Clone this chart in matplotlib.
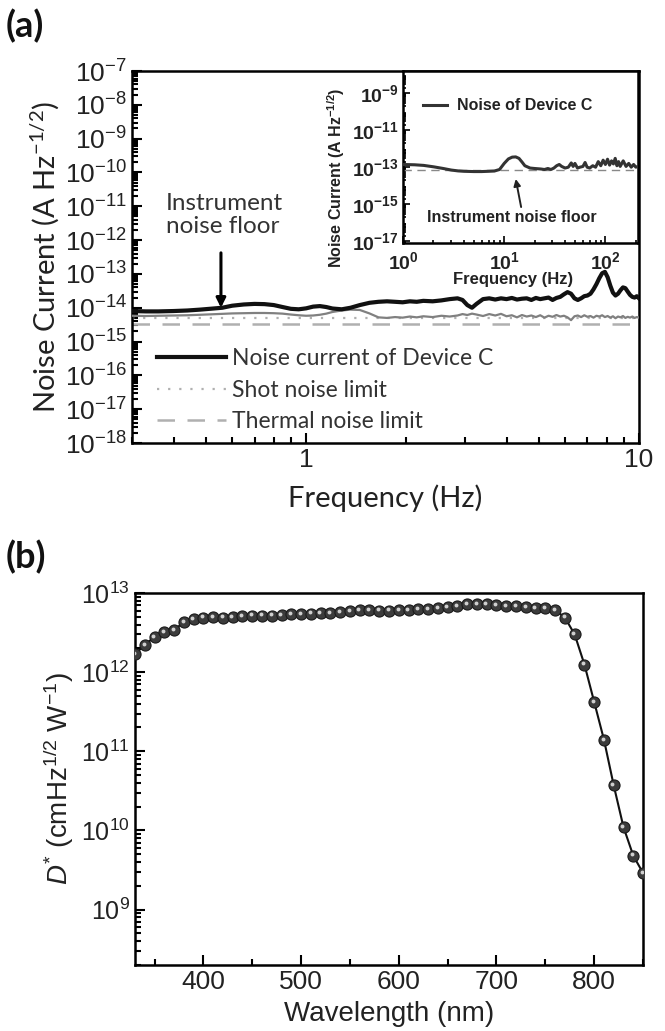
import numpy as np
import matplotlib
matplotlib.use("Agg")
import matplotlib.pyplot as plt
from matplotlib.ticker import LogLocator, FixedLocator, FixedFormatter, NullFormatter, MultipleLocator
import matplotlib.transforms as mtransforms

plt.rcParams['font.family'] = 'Liberation Sans'
plt.rcParams['mathtext.fontset'] = 'custom'
plt.rcParams['mathtext.rm'] = 'Liberation Sans'
plt.rcParams['mathtext.it'] = 'Liberation Sans:italic'
plt.rcParams['mathtext.bf'] = 'Liberation Sans:bold'
plt.rcParams['axes.linewidth'] = 1.8

# ---- panel (a): noise current vs frequency ----
freq = [0.30, 0.33, 0.36, 0.40, 0.44, 0.48, 0.52, 0.56, 0.60, 0.65, 0.70, 0.75, 0.80, 0.85,
        0.90, 0.95, 1.00, 1.05, 1.10, 1.15, 1.20, 1.28, 1.36, 1.45, 1.55, 1.65, 1.75, 1.85,
        1.95, 2.05, 2.15, 2.25, 2.40, 2.55, 2.70, 2.85, 2.95, 3.05, 3.15, 3.25, 3.40, 3.55,
        3.70, 3.85, 4.00, 4.15, 4.30, 4.45, 4.60, 4.75, 4.90, 5.05, 5.20, 5.35, 5.50, 5.65,
        5.80, 5.95, 6.10, 6.25, 6.40, 6.55, 6.70, 6.85, 7.00, 7.15, 7.30, 7.45, 7.60, 7.75,
        7.90, 8.05, 8.20, 8.35, 8.50, 8.65, 8.80, 8.95, 9.10, 9.25, 9.40, 9.55, 9.70, 9.85, 10.0]
device_noise = [8.0e-15, 7.8e-15, 7.8e-15, 8.0e-15, 8.3e-15, 8.8e-15, 9.4e-15, 1.0e-14, 1.15e-14,
                1.25e-14, 1.3e-14, 1.28e-14, 1.2e-14, 1.05e-14, 9.3e-15, 9.0e-15, 9.6e-15, 1.08e-14,
                1.12e-14, 1.05e-14, 9.5e-15, 9.0e-15, 1.0e-14, 1.2e-14, 1.4e-14, 1.5e-14, 1.55e-14,
                1.5e-14, 1.45e-14, 1.55e-14, 1.5e-14, 1.6e-14, 1.55e-14, 1.65e-14, 1.8e-14, 1.9e-14,
                1.7e-14, 1.2e-14, 1.0e-14, 1.3e-14, 1.8e-14, 1.9e-14, 1.75e-14, 1.9e-14, 1.8e-14,
                1.95e-14, 1.75e-14, 1.85e-14, 1.9e-14, 1.7e-14, 1.95e-14, 1.8e-14, 1.9e-14, 2.0e-14,
                1.7e-14, 1.95e-14, 2.1e-14, 2.5e-14, 2.9e-14, 2.6e-14, 1.9e-14, 1.7e-14, 1.9e-14,
                2.2e-14, 2.3e-14, 2.6e-14, 3.5e-14, 5.0e-14, 7.5e-14, 1.05e-13, 1.15e-13, 8.0e-14,
                4.5e-14, 2.8e-14, 2.3e-14, 2.6e-14, 3.3e-14, 4.0e-14, 3.8e-14, 3.0e-14, 2.4e-14,
                2.1e-14, 2.0e-14, 2.2e-14, 1.9e-14]
floor_noise = [5.8e-15, 5.7e-15, 5.8e-15, 5.9e-15, 6.0e-15, 6.2e-15, 6.4e-15, 6.6e-15, 6.8e-15,
               6.9e-15, 7.0e-15, 7.0e-15, 6.9e-15, 6.7e-15, 6.3e-15, 6.0e-15, 5.8e-15, 5.9e-15,
               6.2e-15, 6.7e-15, 7.5e-15, 8.3e-15, 8.8e-15, 8.6e-15, 6.8e-15, 5.2e-15, 5.0e-15,
               5.3e-15, 5.1e-15, 5.5e-15, 5.2e-15, 5.6e-15, 5.3e-15, 5.8e-15, 5.5e-15, 5.9e-15,
               6.5e-15, 6.1e-15, 6.7e-15, 6.3e-15, 5.7e-15, 6.5e-15, 5.9e-15, 6.6e-15, 5.6e-15,
               6.0e-15, 5.2e-15, 6.1e-15, 5.5e-15, 5.9e-15, 5.3e-15, 6.0e-15, 5.1e-15, 5.8e-15,
               5.4e-15, 6.1e-15, 5.5e-15, 5.8e-15, 5.2e-15, 4.3e-15, 5.6e-15, 5.9e-15, 5.3e-15,
               6.0e-15, 5.4e-15, 5.7e-15, 5.1e-15, 5.8e-15, 5.5e-15, 6.0e-15, 5.3e-15, 5.7e-15,
               5.1e-15, 5.6e-15, 4.9e-15, 5.5e-15, 5.2e-15, 5.7e-15, 5.0e-15, 5.4e-15, 5.1e-15,
               5.5e-15, 5.0e-15, 5.3e-15, 5.1e-15]
shot_limit = 5.1e-15
thermal_limit = 3.3e-15

# ---- inset: wider frequency range ----
inset_freq = [1.0, 1.3, 1.6, 2.0, 2.5, 3.0, 3.5, 4.0, 5.0, 6.0, 7.0, 8.0, 9.0, 10, 11, 12, 13, 14,
              15, 16, 18, 20, 23, 25, 27, 29, 31, 33, 35, 37, 40, 43, 46, 48, 50, 53, 56, 60, 63,
              66, 70, 75, 80, 85, 90, 95, 100, 105, 110, 115, 120, 125, 130, 135, 140, 150, 160,
              170, 180, 190, 200, 210]
inset_noise = [1.4e-13, 1.35e-13, 1.25e-13, 1.05e-13, 8.5e-14, 7.0e-14, 6.3e-14, 6.0e-14, 5.8e-14,
               5.8e-14, 6.0e-14, 6.2e-14, 7.5e-14, 1.6e-13, 2.8e-13, 3.5e-13, 3.6e-13, 3.0e-13,
               1.9e-13, 1.2e-13, 9.0e-14, 8.5e-14, 8.0e-14, 7.5e-14, 8.5e-14, 7.5e-14, 9.0e-14,
               1.2e-13, 1.4e-13, 1.1e-13, 9.0e-14, 1.0e-13, 1.7e-13, 1.1e-13, 1.6e-13, 9.0e-14,
               1.0e-13, 1.1e-13, 1.8e-13, 1.0e-13, 9.0e-14, 1.2e-13, 1.0e-13, 2.0e-13, 1.2e-13,
               2.4e-13, 1.4e-13, 2.7e-13, 1.3e-13, 2.2e-13, 1.5e-13, 3.0e-13, 1.2e-13, 2.0e-13,
               1.1e-13, 2.2e-13, 1.1e-13, 1.6e-13, 1.0e-13, 1.4e-13, 1.0e-13, 1.1e-13]
inset_floor = 7.0e-14

# ---- panel (b): detectivity vs wavelength ----
wavelength = list(range(330, 851, 10))
detectivity = [1.7e12, 2.2e12, 2.8e12, 3.2e12, 3.4e12, 4.3e12, 4.7e12, 4.9e12, 5.0e12, 4.9e12,
               5.0e12, 5.1e12, 5.2e12, 5.2e12, 5.2e12, 5.3e12, 5.4e12, 5.4e12, 5.5e12, 5.6e12,
               5.6e12, 5.8e12, 5.9e12, 6.1e12, 6.1e12, 6.0e12, 6.0e12, 6.1e12, 6.1e12, 6.3e12,
               6.3e12, 6.5e12, 6.7e12, 6.9e12, 7.2e12, 7.3e12, 7.3e12, 7.1e12, 6.9e12, 6.8e12,
               6.6e12, 6.5e12, 6.5e12, 6.1e12, 4.9e12, 3.0e12, 1.25e12, 4.2e11, 1.4e11, 3.7e10,
               1.1e10, 4.8e9, 2.9e9]

main_xticks = [1, 10]
main_xticklabels = ['1', '10']
inset_xticks = [1, 10, 100]
inset_xticklabels = [r'$\mathbf{10^{0}}$', r'$\mathbf{10^{1}}$', r'$\mathbf{10^{2}}$']
inset_yticks = [1e-17, 1e-15, 1e-13, 1e-11, 1e-9]
inset_yticklabels = [r'$\mathbf{10^{-17}}$', r'$\mathbf{10^{-15}}$', r'$\mathbf{10^{-13}}$',
                     r'$\mathbf{10^{-11}}$', r'$\mathbf{10^{-9}}$']

txt = '#222222'
calib = 'Lato'

fig = plt.figure(figsize=(6.65, 10.31), dpi=100)

# ---------------- (a) ----------------
ax = fig.add_axes([0.1985, 0.5703, 0.7624, 0.3608])
ax.set_xscale('log')
ax.set_yscale('log')
ax.plot(freq, floor_noise, color='#808080', lw=1.6, zorder=3)
ax.axhline(shot_limit, color='#b0b0b0', lw=1.6, ls=(0, (1, 4)), zorder=2, label='Shot noise limit')
ax.axhline(thermal_limit, color='#b0b0b0', lw=1.8, ls=(0, (7, 5)), zorder=2, label='Thermal noise limit')
ax.plot(freq, device_noise, color='#111111', lw=3.0, zorder=4, label='Noise current of Device C')
ax.set_xlim(0.3, 10)
ax.set_ylim(1e-18, 1e-7)
ax.xaxis.set_major_locator(FixedLocator(main_xticks))
ax.xaxis.set_major_formatter(FixedFormatter(main_xticklabels))
ax.xaxis.set_minor_locator(LogLocator(base=10, subs=np.arange(2, 10), numticks=20))
ax.xaxis.set_minor_formatter(NullFormatter())
ax.yaxis.set_major_locator(LogLocator(base=10, numticks=20))
ax.yaxis.set_minor_locator(LogLocator(base=10, subs=np.arange(2, 10), numticks=200))
ax.yaxis.set_minor_formatter(NullFormatter())
ax.tick_params(which='both', direction='in', top=False, right=False, colors='black',
               labelcolor=txt, labelsize=19, width=1.5)
ax.tick_params(which='major', length=7)
ax.tick_params(which='minor', length=4)
ax.set_xlabel('Frequency (Hz)', family=calib, fontsize=21, color=txt, labelpad=9)
ax.set_ylabel(r'Noise Current (A Hz$^{\mathdefault{-1/2}}$)', family=calib, fontsize=21,
              color=txt, labelpad=2)

handles, labels = ax.get_legend_handles_labels()
order = [2, 0, 1]
ax.legend([handles[i] for i in order], [labels[i] for i in order], loc='lower left',
          bbox_to_anchor=(0.049, 0.03), frameon=False, borderpad=0, borderaxespad=0,
          handlelength=3.0, handletextpad=0.3, labelspacing=0.45,
          prop={'family': calib, 'size': 16.5}, labelcolor='#333333')

ax.text(0.067, 0.613, 'Instrument\nnoise floor', transform=ax.transAxes, family=calib,
        fontsize=17.5, color='#333333', ha='left', va='center', linespacing=1.15)
ax.annotate('', xy=(0.555, 1.0e-14), xytext=(0.555, 4.2e-13),
            arrowprops=dict(arrowstyle='-|>', lw=2.2, color='black', mutation_scale=14,
                            shrinkA=0, shrinkB=0))

# ---------------- inset ----------------
ins = fig.add_axes([0.606, 0.7643, 0.3534, 0.1668])
ins.set_xscale('log')
ins.set_yscale('log')
ins.plot(inset_freq, inset_noise, color='#333333', lw=2.2, label='Noise of Device C', zorder=3)
ins.axhline(inset_floor, color='#888888', lw=1.0, ls=(0, (6, 4)), zorder=2)
ins.set_xlim(1, 210)
ins.set_ylim(10 ** -17.1, 10 ** -7.8)
ins.xaxis.set_major_locator(FixedLocator(inset_xticks))
ins.xaxis.set_major_formatter(FixedFormatter(inset_xticklabels))
ins.xaxis.set_minor_locator(LogLocator(base=10, subs=np.arange(2, 10), numticks=20))
ins.xaxis.set_minor_formatter(NullFormatter())
ins.yaxis.set_major_locator(FixedLocator(inset_yticks))
ins.yaxis.set_major_formatter(FixedFormatter(inset_yticklabels))
ins.yaxis.set_minor_locator(LogLocator(base=10, subs=np.arange(2, 10), numticks=200))
ins.yaxis.set_minor_formatter(NullFormatter())
ins.tick_params(which='both', direction='in', top=False, right=False, labelsize=14,
                labelcolor=txt, width=1.2, pad=3)
ins.tick_params(axis='x', pad=6)
ins.tick_params(which='major', length=5)
ins.tick_params(which='minor', length=2.5)
ins.set_xlabel('Frequency (Hz)', fontsize=12, fontweight='bold', color=txt)
ins.xaxis.set_label_coords(0.47, -0.17)
ins.set_ylabel(r'Noise Current (A Hz$^{\mathbf{-1/2}}$)', fontsize=11.5, fontweight='bold', color=txt)
ins.yaxis.set_label_coords(-0.24, 0.38)
ins.legend(loc='center left', bbox_to_anchor=(0.085, 0.797), frameon=False, borderpad=0,
           borderaxespad=0, handlelength=1.5, handletextpad=0.6,
           prop={'weight': 'bold', 'size': 11.5}, labelcolor=txt)
ins.text(12, 1.8e-16, 'Instrument noise floor', fontsize=11.5, fontweight='bold', color=txt,
         ha='center', va='center')
ins.annotate('', xy=(13, 2.3e-14), xytext=(14.7, 7e-16),
             arrowprops=dict(arrowstyle='-|>', lw=1.4, color='#222222', mutation_scale=10,
                             shrinkA=0, shrinkB=0))

# ---------------- (b) ----------------
bx = fig.add_axes([0.203, 0.064, 0.764, 0.3608])
bx.set_yscale('log')
bx.plot(wavelength, detectivity, color='#111111', lw=1.5, zorder=2)
bx.plot(wavelength, detectivity, ls='none', marker='o', ms=8, mfc='#3c3c3c', mec='#1a1a1a',
        mew=0.8, zorder=3)
hl = mtransforms.offset_copy(bx.transData, fig=fig, x=-0.9, y=0.9, units='points')
bx.plot(wavelength, detectivity, ls='none', marker='o', ms=2.8, mfc='#d0d0d0', mec='none',
        transform=hl, zorder=4)
bx.set_xlim(330, 850)
bx.set_ylim(10 ** 8.3, 1e13)
bx.xaxis.set_major_locator(MultipleLocator(100))
bx.xaxis.set_minor_locator(MultipleLocator(50))
bx.yaxis.set_major_locator(LogLocator(base=10, numticks=20))
bx.yaxis.set_minor_locator(LogLocator(base=10, subs=np.arange(2, 10), numticks=200))
bx.yaxis.set_minor_formatter(NullFormatter())
bx.tick_params(which='both', direction='in', top=False, right=False, labelcolor=txt, width=1.5)
bx.tick_params(axis='x', labelsize=19)
bx.tick_params(axis='y', labelsize=18)
bx.tick_params(which='major', length=7)
bx.tick_params(which='minor', length=4)
bx.set_xlabel('Wavelength (nm)', fontsize=20, color=txt, labelpad=5)
bx.set_ylabel(r'$\mathit{D}^{\mathdefault{*}}$ (cmHz$^{\mathdefault{1/2}}$ W$^{\mathdefault{-1}}$)',
              fontsize=20, color=txt, labelpad=4)

fig.text(0.008, 0.975, '(a)', family=calib, fontweight='bold', fontsize=26, va='center', color='#111111')
fig.text(0.008, 0.46, '(b)', family=calib, fontweight='bold', fontsize=26, va='center', color='#111111')

fig.savefig('out.png', dpi=100)
plt.close(fig)
